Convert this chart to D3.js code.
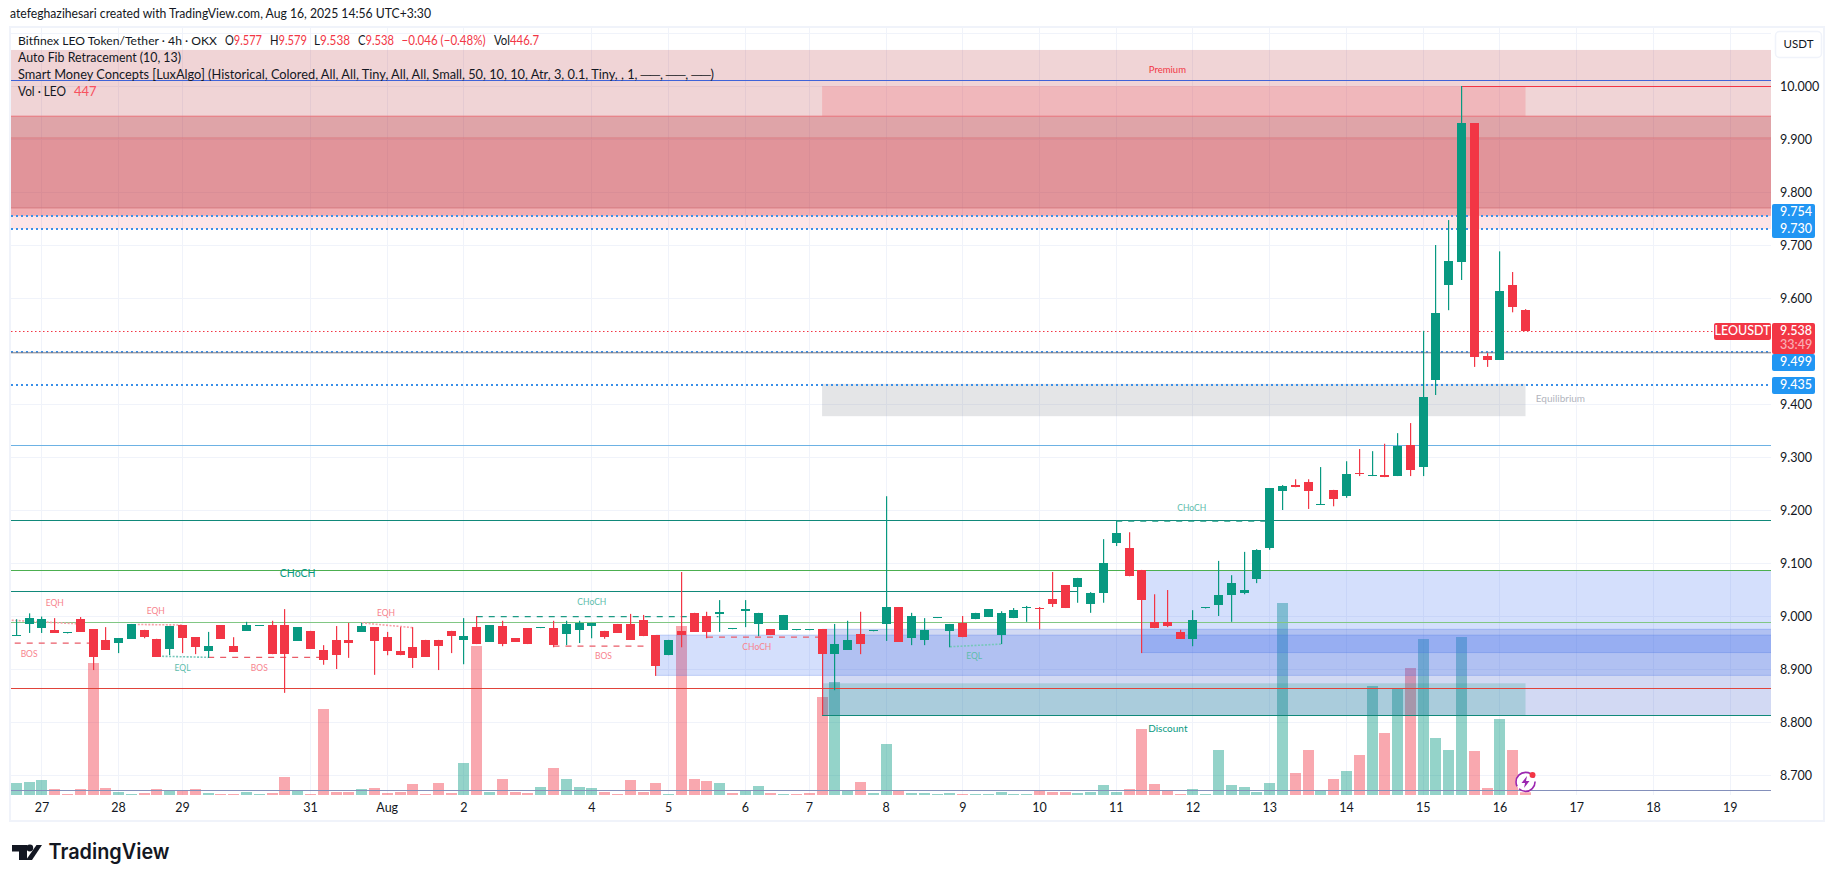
<!DOCTYPE html>
<html><head><meta charset="utf-8">
<script src="https://cdn.jsdelivr.net/npm/d3@7/dist/d3.min.js"></script>
<style>
html,body{margin:0;padding:0;background:#fff}
svg{display:block}
text{font-family:"Lato","Noto Sans",sans-serif;fill:#131722}
</style></head><body>
<script>
// ---- data ----
const opens=[8.964,8.985,8.977,8.974,8.969,8.994,8.975,8.955,8.949,8.957,8.974,8.957,8.938,8.983,8.960,8.934,8.983,8.943,8.972,8.982,8.983,8.983,8.953,8.972,8.936,8.955,8.955,8.970,8.979,8.960,8.934,8.941,8.955,8.955,8.972,8.955,8.979,8.951,8.981,8.958,8.977,8.978,8.977,8.966,8.974,8.981,8.972,8.985,8.985,8.992,8.964,8.926,8.972,9.006,9.000,9.004,8.976,9.010,8.985,8.975,8.974,8.975,8.975,8.975,8.928,8.936,8.966,8.972,8.985,9.017,8.958,8.955,8.997,8.972,8.987,8.994,8.998,8.964,8.996,9.016,9.016,9.032,9.058,9.055,9.023,9.043,9.138,9.128,9.087,8.989,8.989,8.970,8.957,9.016,9.021,9.040,9.043,9.070,9.128,9.236,9.247,9.253,9.211,9.238,9.226,9.270,9.265,9.266,9.264,9.323,9.281,9.445,9.624,9.668,9.930,9.490,9.483,9.624,9.577];
const highs=[8.994,9.005,8.999,8.996,8.969,8.998,8.975,8.979,8.958,8.985,8.974,8.957,8.981,8.983,8.960,8.970,8.983,8.960,8.989,8.983,8.991,9.013,8.979,8.972,8.945,8.981,8.987,8.987,8.979,8.970,8.979,8.979,8.955,8.955,8.972,8.996,9.000,8.983,8.991,8.958,8.977,8.979,8.991,8.991,8.991,8.987,8.972,8.985,9.004,9.002,8.964,8.955,9.083,9.006,9.008,9.030,8.977,9.030,9.006,8.975,9.002,8.975,8.975,8.975,8.985,8.991,9.008,8.973,9.226,9.017,9.006,8.996,8.998,8.985,9.000,9.006,9.013,9.009,9.015,9.019,9.017,9.083,9.058,9.072,9.045,9.145,9.179,9.158,9.087,9.041,9.049,8.974,9.011,9.016,9.104,9.077,9.121,9.126,9.241,9.247,9.258,9.258,9.281,9.238,9.292,9.315,9.311,9.325,9.345,9.364,9.538,9.700,9.747,10.000,9.930,9.496,9.688,9.649,9.579];
const lows=[8.964,8.968,8.968,8.968,8.969,8.970,8.898,8.936,8.930,8.957,8.958,8.923,8.926,8.930,8.928,8.921,8.957,8.932,8.972,8.982,8.928,8.855,8.953,8.938,8.908,8.900,8.921,8.970,8.889,8.926,8.926,8.902,8.923,8.898,8.930,8.909,8.947,8.951,8.943,8.951,8.947,8.978,8.941,8.945,8.949,8.958,8.957,8.968,8.955,8.962,8.887,8.926,8.941,8.970,8.958,8.970,8.976,8.979,8.962,8.964,8.974,8.975,8.975,8.813,8.860,8.936,8.928,8.972,8.953,8.951,8.945,8.945,8.997,8.941,8.960,8.994,8.998,8.947,8.996,8.989,8.975,9.017,9.015,9.025,9.006,9.025,9.132,9.075,8.930,8.977,8.979,8.957,8.943,9.016,9.000,8.989,9.041,9.062,9.125,9.200,9.243,9.202,9.211,9.207,9.223,9.264,9.264,9.262,9.264,9.264,9.264,9.417,9.577,9.634,9.470,9.470,9.483,9.573,9.538];
const closes=[8.965,8.996,8.994,8.968,8.970,8.970,8.923,8.936,8.958,8.985,8.960,8.923,8.981,8.958,8.941,8.943,8.957,8.932,8.983,8.983,8.928,8.928,8.979,8.938,8.917,8.926,8.949,8.981,8.953,8.934,8.926,8.921,8.923,8.943,8.962,8.962,8.947,8.983,8.947,8.951,8.947,8.979,8.945,8.985,8.987,8.987,8.960,8.968,8.955,8.962,8.906,8.955,8.964,8.970,8.970,9.008,8.977,9.013,9.006,8.964,9.002,8.9755,8.9755,8.928,8.947,8.955,8.947,8.973,9.017,8.951,9.000,8.974,8.998,8.985,8.960,9.006,9.013,9.006,9.011,9.017,9.015,9.023,9.015,9.072,9.043,9.100,9.157,9.075,9.030,8.977,8.981,8.957,8.992,9.017,9.040,9.062,9.049,9.125,9.241,9.245,9.243,9.236,9.212,9.221,9.268,9.268,9.266,9.262,9.321,9.275,9.413,9.572,9.670,9.930,9.489,9.483,9.613,9.583,9.538];
const volumes=[1980,2145,2475,990,165,990,21780,1155,495,165,330,990,825,825,990,330,165,165,495,165,330,2970,825,165,14190,495,495,990,1155,330,495,1815,165,1980,330,5280,24585,495,2640,495,330,1320,4455,2640,1320,1155,495,165,2475,495,1980,165,27885,2640,2310,1980,330,825,1485,330,165,165,330,16170,18645,825,2145,330,8415,825,330,330,165,330,165,165,165,495,165,165,660,495,495,330,495,1650,495,990,10890,1815,660,165,990,165,7425,1650,1320,495,1980,31680,3630,7425,660,2640,3960,6600,17985,10230,17655,20955,25740,9405,7425,26070,7260,1155,12540,7425,447];
const volumeIsUp=[1,1,1,0,0,0,0,0,1,1,0,0,1,0,0,1,0,0,1,1,0,0,1,0,0,0,0,1,0,0,0,0,0,0,0,1,0,1,0,0,0,1,0,1,1,1,0,0,0,0,0,1,0,0,0,1,0,1,1,0,1,0,0,0,1,1,0,1,1,0,1,1,1,1,0,1,1,1,1,1,0,0,0,1,1,1,1,0,0,0,0,0,1,1,1,1,1,1,1,1,0,0,1,0,1,0,1,0,1,0,1,1,1,1,0,0,1,0,0];
const timeTickLabels=["27","28","29","31","Aug","2","4","5","6","7","8","9","10","11","12","13","14","15","16","17","18","19"];
const timeTickBars=[2,8,13,23,29,35,45,51,57,62,68,74,80,86,92,98,104,110,116,122,128,134];
const priceTicks=[10.0,9.9,9.8,9.7,9.6,9.4,9.3,9.2,9.1,9.0,8.9,8.8,8.7];
const gridPrices=[10.1,10.0,9.9,9.8,9.7,9.6,9.5,9.4,9.3,9.2,9.1,9.0,8.9,8.8,8.7];
// zones: [top price, bottom price, first bar, last bar, fill key]
const zoneRows=[
 [10.068,9.755,-2,140,"a"],[9.755,9.730,-2,140,"b"],[9.943,9.770,-2,140,"c"],[9.770,9.755,-2,140,"e"],[9.902,9.770,-2,140,"d"],
 [10.000,9.943,63,118,"p"],[9.438,9.377,63,118,"g"],
 [8.975,8.813,63,140,"z2"],[8.964,8.888,50,140,"z1"],[9.086,8.931,88,140,"z1"],[8.873,8.813,63,118,"t"]];
const zoneEdges=[[9.943,"#e8747c"],[9.902,"#d98086"],[9.770,"#d57a80"]];
// level lines: [price, first bar, last bar, colour key]
const levelRows=[
 [10.012,-2,140,"blue"],[10.000,113,140,"red"],[9.322,-2,140,"sky"],[9.182,-2,140,"teal"],[9.086,-2,140,"green"],
 [9.048,-2,83,"teal"],[8.988,-2,140,"lime"],[8.865,-2,140,"red2"],[8.813,63,140,"teal"],[8.671,-2,140,"slate"]];
const trackedLevels=[9.754,9.730,9.499,9.435];
const currentPrice=9.538;
// structure lines: [bar a, price a, bar b, price b, kind]
const structureRows=[
 [-2,8.994,5,8.985,"redDot"],[-2,8.949,6,8.949,"redDash"],[9.5,8.984,13,8.983,"redDot"],[11.4,8.924,15,8.922,"tealDot"],
 [15,8.922,23.8,8.922,"redDash"],[27,8.987,31,8.978,"redDot"],[36,8.999,54.9,8.999,"tealDash"],[42,8.943,49.5,8.943,"redDash"],
 [54,8.960,62.7,8.960,"redDash"],[73,8.942,77,8.947,"tealDot"],[86,9.179,98,9.179,"tealDash"]];
const structureLabels=[["EQH",3,9.023,"r"],["EQH",10.9,9.007,"r"],["EQH",28.9,9.004,"r"],["BOS",1,8.926,"r"],["BOS",19,8.901,"r"],["BOS",45.9,8.922,"r"],
 ["EQL",13,8.901,"t"],["EQL",74.9,8.923,"t"],["CHoCH",45,9.025,"t"],["CHoCH",91.9,9.202,"t"],["CHoCH",57.9,8.939,"r"]];

// ---- layout ----
const W=1835,H=883,pane={l:11,r:1771,t:28,b:795};
const svg=d3.select("body").append("svg").attr("width",W).attr("height",H).attr("viewBox",`0 0 ${W} ${H}`);
const x=d3.scaleLinear().domain([0,134]).range([16.3,16.3+12.79*134]);
const y=d3.scaleLinear().domain([10,8.7]).range([86,775]);
const yVol=d3.scaleLinear().domain([0,16500]).range([795,695]);
const cx=i=>Math.floor(x(i));
const GREEN="#089981",RED="#f23645";
const fills={a:"rgba(178,40,51,.2)",b:"rgba(242,54,69,.13)",c:"rgba(178,40,51,.28)",d:"rgba(242,54,69,.14)",e:"rgba(242,54,69,.25)",
 p:"rgba(242,54,69,.18)",g:"rgba(120,123,134,.2)",z1:"rgba(60,110,240,.22)",z2:"rgba(50,80,200,.22)",t:"rgba(8,153,129,.2)"};
const lineCols={blue:"#3f63d8",red:RED,sky:"#6db2e4",teal:"#11897a",green:"#4caf50",lime:"#81c784",red2:"#e0433a",slate:"#8490bb"};
const structStyle={redDot:["#f7a0a8","2,1.5",1.6],tealDot:["#76c7ba","2,1.5",1.6],redDash:["#ea5c68","6,6",1.2],tealDash:["#1c9a85","6,6",1.2]};

svg.append("rect").attr("x",10).attr("y",27).attr("width",1814).attr("height",794).attr("fill","#fff").attr("stroke","#f0f3fa").attr("stroke-width",2);
const defs=svg.append("defs");
defs.append("clipPath").attr("id","pane").append("rect").attr("x",pane.l).attr("y",pane.t).attr("width",pane.r-pane.l).attr("height",pane.b-pane.t);
const g=svg.append("g").attr("clip-path","url(#pane)");

// grid
g.selectAll(".gh").data(gridPrices).join("line").attr("x1",pane.l).attr("x2",pane.r).attr("y1",d=>Math.round(y(d))+.5).attr("y2",d=>Math.round(y(d))+.5).attr("stroke","#f0f3fa");
g.selectAll(".gv").data(timeTickBars).join("line").attr("x1",d=>cx(d)+.5).attr("x2",d=>cx(d)+.5).attr("y1",pane.t).attr("y2",pane.b).attr("stroke","#f0f3fa");

// volume
g.selectAll(".vol").data(volumes).join("rect").attr("x",(d,i)=>cx(i)-5).attr("width",11)
 .attr("y",d=>yVol(d)).attr("height",d=>yVol(0)-yVol(d))
 .attr("fill",(d,i)=>volumeIsUp[i]?"rgba(8,153,129,.43)":"rgba(242,54,69,.43)");

// zones
g.selectAll(".zone").data(zoneRows).join("rect").attr("x",d=>x(d[2])).attr("width",d=>x(d[3])-x(d[2]))
 .attr("y",d=>y(d[0])).attr("height",d=>y(d[1])-y(d[0])).attr("fill",d=>fills[d[4]]);
g.selectAll(".edge").data(zoneEdges).join("line").attr("x1",pane.l).attr("x2",pane.r).attr("y1",d=>y(d[0])).attr("y2",d=>y(d[0])).attr("stroke",d=>d[1]).attr("stroke-width",1);
[8.975,8.964,8.931,8.888].forEach((p,k)=>{g.append("line").attr("x1",x(k==1||k==3?50:k==2?88:63)).attr("x2",pane.r).attr("y1",y(p)).attr("y2",y(p)).attr("stroke","rgba(70,110,225,.28)");});

// levels
g.selectAll(".lvl").data(levelRows).join("line").attr("x1",d=>x(d[1])).attr("x2",d=>x(d[2])).attr("y1",d=>Math.round(y(d[0]))+.5).attr("y2",d=>Math.round(y(d[0]))+.5)
 .attr("stroke",d=>lineCols[d[3]]).attr("stroke-width",1);
// price lines
g.selectAll(".trk").data(trackedLevels).join("line").attr("x1",pane.l).attr("x2",pane.r).attr("y1",d=>Math.round(y(d))).attr("y2",d=>Math.round(y(d)))
 .attr("stroke","#3a8fe8").attr("stroke-width",2).attr("stroke-dasharray","2,3");
g.append("line").attr("x1",pane.l).attr("x2",pane.r).attr("y1",y(9.4985)+1).attr("y2",y(9.4985)+1).attr("stroke","#787b86").attr("stroke-width",1);
g.append("line").attr("x1",pane.l).attr("x2",pane.r).attr("y1",Math.round(y(currentPrice))+.5).attr("y2",Math.round(y(currentPrice))+.5).attr("stroke",RED).attr("stroke-dasharray","1.5,2.5");

// structures
g.selectAll(".st").data(structureRows).join("line").attr("x1",d=>x(d[0])).attr("x2",d=>x(d[2])).attr("y1",d=>y(d[1])).attr("y2",d=>y(d[3]))
 .attr("stroke",d=>structStyle[d[4]][0]).attr("stroke-dasharray",d=>structStyle[d[4]][1]).attr("stroke-width",d=>structStyle[d[4]][2]);
g.selectAll(".stl").data(structureLabels).join("text").text(d=>d[0]).attr("x",d=>x(d[1])).attr("y",d=>y(d[2])).attr("text-anchor","middle").attr("dominant-baseline","middle")
 .style("font-size","8.5px").style("fill",d=>d[3]=="r"?"#f7838d":"#5dbdac");
g.append("text").text("CHoCH").attr("x",x(22)).attr("y",y(9.078)).attr("text-anchor","middle").attr("dominant-baseline","middle").style("font-size","10.5px").style("fill",GREEN);
g.append("text").text("Premium").attr("x",x(90)).attr("y",y(10.030)).attr("text-anchor","middle").attr("dominant-baseline","middle").style("font-size","9.5px").style("fill",RED);
g.append("text").text("Equilibrium").attr("x",x(118.8)).attr("y",y(9.408)).attr("dominant-baseline","middle").style("font-size","10px").style("fill","#b2b5be");
g.append("text").text("Discount").attr("x",x(88.5)).attr("y",y(8.785)).attr("dominant-baseline","middle").style("font-size","10px").style("fill",GREEN);

// candles
const col=i=>closes[i]>=opens[i]?GREEN:RED;
g.selectAll(".wick").data(opens).join("rect").attr("x",(d,i)=>cx(i)).attr("width",1.2)
 .attr("y",(d,i)=>y(highs[i])).attr("height",(d,i)=>Math.max(1,y(lows[i])-y(highs[i]))).attr("fill",(d,i)=>col(i));
g.selectAll(".body").data(opens).join("rect").attr("x",(d,i)=>cx(i)-4).attr("width",9)
 .attr("y",(d,i)=>Math.round(y(Math.max(opens[i],closes[i])))).attr("height",(d,i)=>Math.max(1,Math.round(Math.abs(y(opens[i])-y(closes[i]))))).attr("fill",(d,i)=>col(i));

// bolt icon at the last bar
const bolt=svg.append("g").attr("transform",`translate(${x(118)},${y(8.687)})`);
bolt.append("circle").attr("r",9.5).attr("fill","#fff").attr("stroke","#9c27b0").attr("stroke-width",1.6).attr("stroke-dasharray","22,3,30,4");
bolt.append("path").attr("d","M1.5,-6 L-4,1 L-0.5,1 L-1.5,6 L4,-1 L0.5,-1 Z").attr("fill","#9c27b0");
bolt.append("circle").attr("cx",7).attr("cy",-7).attr("r",3).attr("fill",RED);

// axes
const axR=d3.axisRight(y).tickValues(priceTicks).tickSize(0).tickPadding(0).tickFormat(d3.format(".3f"));
svg.append("g").attr("transform","translate(1780,0)").call(axR).call(s=>s.select(".domain").remove()).selectAll("text").style("font-size","12.5px").style("font-family","Lato").style("fill","#131722");
const labelFor=d3.scaleOrdinal(timeTickBars,timeTickLabels);
const axB=d3.axisBottom(x).tickValues(timeTickBars).tickSize(0).tickPadding(8).tickFormat(d=>labelFor(d));
svg.append("g").attr("transform","translate(-0.5,795)").call(axB).call(s=>s.select(".domain").remove()).selectAll("text").style("font-size","12.5px").style("font-family","Lato").style("fill","#131722");

// USDT button
svg.append("rect").attr("x",1775.5).attr("y",31.5).attr("width",46).attr("height",26).attr("rx",4).attr("fill","#fff").attr("stroke","#f0f3fa").attr("stroke-width",1.5);
svg.append("text").text("USDT").attr("x",1798.5).attr("y",45).attr("text-anchor","middle").attr("dominant-baseline","middle").style("font-size","11.5px");

// price badges
const BLUE="#2196f3";
function badge(x0,y0,w,h,c){svg.append("rect").attr("x",x0).attr("y",y0).attr("width",w).attr("height",h).attr("rx",2).attr("fill",c);}
function blab(t,x0,cy,op,anchor){svg.append("text").text(t).attr("x",x0).attr("y",cy).attr("text-anchor",anchor||"start").attr("dominant-baseline","middle").style("font-size","12.5px").style("font-weight",500).style("fill","#fff").style("opacity",op||1);}
badge(1772,204,43,34,BLUE);
blab(d3.format(".3f")(trackedLevels[0]),1780,213);
blab(d3.format(".3f")(trackedLevels[1]),1780,230);
badge(1772,354,43,17,BLUE);
blab(d3.format(".3f")(trackedLevels[2]),1780,362.5);
badge(1772,377,43,17,BLUE);
blab(d3.format(".3f")(trackedLevels[3]),1780,385.5);
badge(1772,323,43,31,RED);
blab(d3.format(".3f")(currentPrice),1780,331.5);
blab("33:49",1780,346,.6);
badge(1714,323,57,17,RED);
blab("LEOUSDT",1742.5,331.8,1,"middle");

// header and legend
svg.append("text").text("atefeghazihesari created with TradingView.com, Aug 16, 2025 14:56 UTC+3:30").attr("x",10).attr("y",15).attr("dominant-baseline","middle").attr("textLength",421).attr("lengthAdjust","spacingAndGlyphs").style("font-size","13px");
function legendRow(px,py,parts,len,fs){const t=svg.append("text").attr("x",px).attr("y",py).attr("dominant-baseline","middle").style("font-size",(fs||13)+"px");
 if(len)t.attr("textLength",len).attr("lengthAdjust","spacingAndGlyphs");
 parts.forEach(p=>t.append("tspan").text(p[0]).style("fill",p[1]||"#131722"));}
legendRow(18,42,[["Bitfinex LEO Token/Tether · 4h · OKX"]],199,12.2);
legendRow(225,42,[["O"],["9.577",RED]],37);
legendRow(270,42,[["H"],["9.579",RED]],37);
legendRow(314,42,[["L"],["9.538",RED]],36);
legendRow(358,42,[["C"],["9.538",RED]],36);
legendRow(401.5,42,[["−0.046 (−0.48%)",RED]],84);
legendRow(494,42,[["Vol"],["446.7",RED]],45);
legendRow(18,59,[["Auto Fib Retracement (10, 13)"]],163);
legendRow(18,76,[["Smart Money Concepts [LuxAlgo] (Historical, Colored, All, All, Tiny, All, All, Small, 50, 10, 10, Atr, 3, 0.1, Tiny, , 1, ──, ──, ──)"]],696);
legendRow(18,93,[["Vol · LEO"]],48);
legendRow(74,93,[["447","#f7525f"]]);

// logo
const logo=svg.append("g").attr("fill","#131722");
logo.append("path").attr("d","M12,845H27V860H19V851.5H12Z");
logo.append("circle").attr("cx",29.8).attr("cy",848).attr("r",3.4);
logo.append("path").attr("d","M36.5,845H42L32,860H26Z");
svg.append("text").text("TradingView").attr("x",48.5).attr("y",853).attr("dominant-baseline","middle").attr("textLength",121).attr("lengthAdjust","spacingAndGlyphs").style("font-family","Inter").style("font-weight",600).style("font-size","21px");
</script>
</body></html>
